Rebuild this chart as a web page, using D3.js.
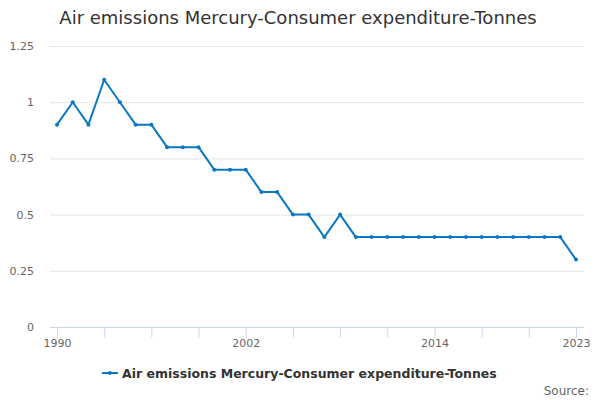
<!DOCTYPE html>
<html>
<head>
<meta charset="utf-8">
<script src="https://cdn.jsdelivr.net/npm/d3@7"></script>
<style>
  body { margin: 0; background: #fff; }
  svg { font-family: "DejaVu Sans", sans-serif; }
</style>
</head>
<body>
<svg id="chart" width="600" height="400"></svg>
<script>
// *** Data ***
var years = d3.range(1990, 2024);
var values = [0.9, 1.0, 0.9, 1.1, 1.0, 0.9, 0.9, 0.8, 0.8, 0.8,
              0.7, 0.7, 0.7, 0.6, 0.6, 0.5, 0.5, 0.4, 0.5, 0.4,
              0.4, 0.4, 0.4, 0.4, 0.4, 0.4, 0.4, 0.4, 0.4, 0.4,
              0.4, 0.4, 0.4, 0.3];
var tickYears = [1990, 1993, 1996, 1999, 2002, 2005, 2008, 2011, 2014, 2017, 2020, 2023];
var labelYears = [1990, 2002, 2014, 2023];
var yTicks = [0, 0.25, 0.5, 0.75, 1, 1.25];
var seriesName = "Air emissions Mercury-Consumer expenditure-Tonnes";
var title = "Air emissions Mercury-Consumer expenditure-Tonnes";

var lineColor = "#0a78c2";

var chart = d3.select("#chart");

var plot = {left: 50, right: 584, top: 46, bottom: 327};

var x = d3.scaleLinear().domain([1990, 2023]).range([57, 576]);
var y = d3.scaleLinear().domain([0, 1.25]).range([plot.bottom, plot.top]);

// title
chart.append("text")
    .attr("x", 298)
    .attr("y", 24)
    .attr("text-anchor", "middle")
    .attr("fill", "#333")
    .style("font-size", "18px")
    .text(title);

// grid lines
chart.append("g").selectAll("line")
    .data(yTicks.filter(d => d > 0)).enter().append("line")
    .attr("x1", plot.left).attr("x2", plot.right)
    .attr("y1", d => y(d) + 0.5).attr("y2", d => y(d) + 0.5)
    .attr("stroke", "#e6e6e6");

// y axis labels
var yAxis = d3.axisLeft(y).tickValues(yTicks).tickSize(0).tickPadding(0)
    .tickFormat(d => d3.format("")(d));
var yAxisG = chart.append("g")
    .attr("transform", "translate(34,0)")
    .call(yAxis);
yAxisG.select(".domain").remove();
yAxisG.selectAll("text")
    .attr("fill", "#666")
    .style("font-size", "11px")
    .style("font-family", "DejaVu Sans, sans-serif");

// x axis
var xAxis = d3.axisBottom(x).tickValues(tickYears).tickSize(10).tickPadding(2)
    .tickFormat(d => labelYears.indexOf(d) >= 0 ? d : "");
var xAxisG = chart.append("g")
    .attr("transform", "translate(0," + (plot.bottom + 0.5) + ")")
    .call(xAxis);
xAxisG.select(".domain").attr("d", "M" + plot.left + ",0H" + plot.right).attr("stroke", "#ccd6eb");
xAxisG.selectAll(".tick line").attr("stroke", "#ccd6eb");
xAxisG.selectAll("text")
    .attr("fill", "#666")
    .style("font-size", "11px")
    .style("font-family", "DejaVu Sans, sans-serif");

// line
var lineMaker = d3.line()
    .x((d, i) => x(years[i]))
    .y(d => y(d));

chart.append("path")
    .attr("d", lineMaker(values))
    .attr("fill", "none")
    .attr("stroke", lineColor)
    .attr("stroke-width", 2)
    .attr("stroke-linejoin", "round");

chart.append("g").selectAll("circle")
    .data(values).enter().append("circle")
    .attr("cx", (d, i) => x(years[i]))
    .attr("cy", d => y(d))
    .attr("r", 2)
    .attr("fill", lineColor);

// legend
var legendG = chart.append("g").attr("transform", "translate(102,373)");
legendG.append("line")
    .attr("x1", 0).attr("x2", 16)
    .attr("y1", 0).attr("y2", 0)
    .attr("stroke", lineColor).attr("stroke-width", 2);
legendG.append("circle")
    .attr("cx", 8).attr("cy", 0).attr("r", 2).attr("fill", lineColor);
legendG.append("text")
    .attr("x", 20)
    .attr("y", 4.5)
    .attr("fill", "#333")
    .style("font-size", "12.5px")
    .style("font-weight", "bold")
    .text(seriesName);

// source
chart.append("text")
    .attr("x", 589)
    .attr("y", 395)
    .attr("text-anchor", "end")
    .attr("fill", "#666")
    .style("font-size", "12px")
    .text("Source:");
</script>
</body>
</html>
